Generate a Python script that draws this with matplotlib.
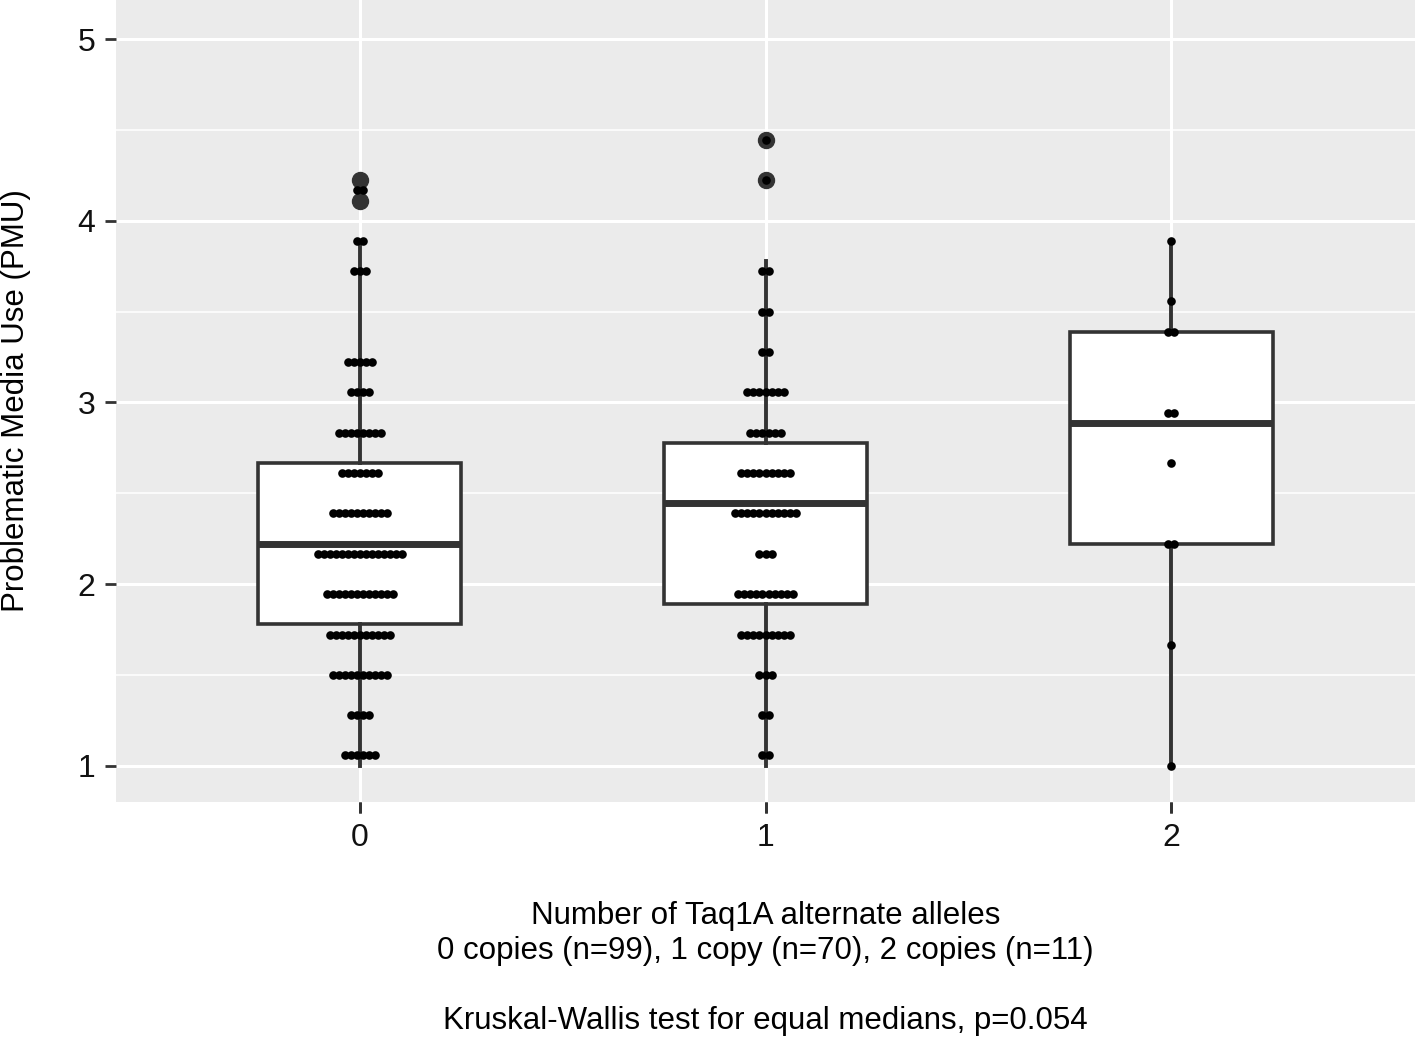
import numpy as np
import matplotlib.pyplot as plt

plt.rcParams['font.family'] = ['Liberation Sans', 'DejaVu Sans']

groups = ['0', '1', '2']

# dotplot rows: bin centre and number of dots in that row
dot_levels_0 = [1.056, 1.278, 1.5, 1.722, 1.944, 2.167, 2.389, 2.611, 2.833, 3.056, 3.222, 3.722, 3.889, 4.167]
dot_counts_0 = [6, 4, 10, 11, 12, 15, 10, 7, 8, 4, 5, 3, 2, 2]
dot_levels_1 = [1.056, 1.278, 1.5, 1.722, 1.944, 2.167, 2.389, 2.611, 2.833, 3.056, 3.278, 3.5, 3.722, 4.222, 4.444]
dot_counts_1 = [2, 2, 3, 9, 10, 3, 11, 9, 6, 7, 2, 2, 2, 1, 1]
dot_levels_2 = [1.0, 1.667, 2.222, 2.667, 2.944, 3.389, 3.556, 3.889]
dot_counts_2 = [1, 1, 2, 1, 2, 2, 1, 1]

# box statistics
box_q1 = [1.778, 1.889, 2.222]
box_med = [2.222, 2.444, 2.889]
box_q3 = [2.667, 2.778, 3.389]
whisk_lo = [1.0, 1.0, 1.0]
whisk_hi = [3.889, 3.778, 3.889]
outliers = [[4.111, 4.222], [4.222, 4.444], []]

xlabel = ("Number of Taq1A alternate alleles\n"
          "0 copies (n=99), 1 copy (n=70), 2 copies (n=11)\n\n"
          "Kruskal-Wallis test for equal medians, p=0.054")
ylabel = "Problematic Media Use (PMU)"

fig = plt.figure(figsize=(14.17, 10.39), dpi=100)
ax = fig.add_axes([116 / 1417, 1 - 802 / 1039, 1299 / 1417, 802 / 1039])
ax.set_facecolor('#EBEBEB')
for s in ax.spines.values():
    s.set_visible(False)

# grid
ax.set_yticks([1, 2, 3, 4, 5])
ax.set_yticks([1.5, 2.5, 3.5, 4.5], minor=True)
ax.set_xticks([0, 1, 2])
ax.set_xticklabels(groups)
ax.grid(which='major', color='white', linewidth=2.2, zorder=0)
ax.grid(which='minor', axis='y', color='white', linewidth=1.1, zorder=0)
ax.set_axisbelow(True)
ax.tick_params(which='minor', length=0)
ax.tick_params(which='major', length=8, width=2, color='#333333',
               labelsize=23, labelcolor='#111111', pad=7)

stats = []
for i in range(3):
    stats.append(dict(q1=box_q1[i], med=box_med[i], q3=box_q3[i],
                      whislo=whisk_lo[i], whishi=whisk_hi[i], fliers=outliers[i]))
ax.bxp(stats, positions=[0, 1, 2], widths=0.5, showcaps=False, patch_artist=True,
       boxprops=dict(facecolor='white', edgecolor='#333333', linewidth=2.6),
       whiskerprops=dict(color='#333333', linewidth=2.8),
       medianprops=dict(color='#333333', linewidth=5),
       flierprops=dict(marker='o', markerfacecolor='#333333', markeredgecolor='#333333',
                       markersize=11.5))

# dotplot, centre-stacked
spacing = 0.0148
all_levels = [dot_levels_0, dot_levels_1, dot_levels_2]
all_counts = [dot_counts_0, dot_counts_1, dot_counts_2]
for g in range(3):
    xs, ys = [], []
    for lev, n in zip(all_levels[g], all_counts[g]):
        for k in range(n):
            xs.append(g + (k - (n - 1) / 2) * spacing)
            ys.append(lev)
    ax.plot(xs, ys, 'o', color='black', markersize=6.2, markeredgewidth=0, zorder=5)

ax.set_xlim(-0.6, 2.6)
ax.set_ylim(0.80, 5.215)

ax.set_xlabel(xlabel, fontsize=22.5, linespacing=1.22)
ax.xaxis.set_label_coords(0.5, -0.123)
ax.set_ylabel(ylabel, fontsize=22.5)
ax.yaxis.set_label_coords(-0.0654, 0.5)

fig.savefig('out.png', dpi=100)
